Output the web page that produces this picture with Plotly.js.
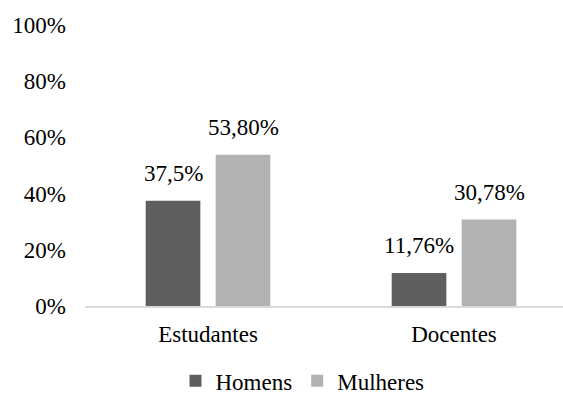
<!DOCTYPE html>
<html>
<head>
<meta charset="utf-8">
<script src="https://cdn.plot.ly/plotly-3.0.1.min.js"></script>
<style>
  html, body { margin: 0; padding: 0; background: #ffffff; font-family: "Liberation Serif"; }
  #chart { width: 563px; height: 394px; }
  #warm { position: absolute; left: 0; top: 0; font-family: "Liberation Serif"; font-size: 23px; color: #ffffff; }
</style>
</head>
<body>
<div id="chart"></div>
<span id="warm"></span>
<script>
// Participação por grupo e sexo
const categories = ["Estudantes", "Docentes"];
const homens = [37.5, 11.76];
const mulheres = [53.80, 30.78];
const homensLabels = ["37,5%", "11,76%"];
const mulheresLabels = ["53,80%", "30,78%"];
const yTickValues = [0, 20, 40, 60, 80, 100];
const yTickLabels = ["0%", "20%", "40%", "60%", "80%", "100%"];

const fontFamily = "Liberation Serif";
const darkGray = "#5f5f5f";
const lightGray = "#b2b2b2";

const traces = [
  { type: "bar", name: "Homens", x: categories, y: homens,
    marker: { color: darkGray } },
  { type: "bar", name: "Mulheres", x: categories, y: mulheres,
    marker: { color: lightGray } }
];

// value labels above each bar, shifted onto their slot in the group
const annotations = [];
function addLabels(values, labels, shift) {
  values.forEach(function (v, i) {
    annotations.push({
      x: categories[i], y: v, xref: "x", yref: "y",
      text: labels[i], showarrow: false,
      xanchor: "center", yanchor: "bottom",
      xshift: shift, yshift: 13,
      font: { family: fontFamily, size: 23, color: "#000000" }
    });
  });
}
addLabels(homens, homensLabels, -35);
addLabels(mulheres, mulheresLabels, 35);

const layout = {
  width: 563, height: 394,
  margin: { l: 85, r: 0, t: 25, b: 88, autoexpand: false },
  paper_bgcolor: "#ffffff", plot_bgcolor: "#ffffff",
  font: { family: fontFamily, size: 23, color: "#000000" },
  barmode: "group",
  bargap: 0.431,
  bargroupgap: 0.219,
  showlegend: true,
  legend: {
    orientation: "h", x: 0.455, xanchor: "center", y: -0.19, yanchor: "top",
    font: { family: fontFamily, size: 23, color: "#000000" },
    itemwidth: 30, traceorder: "normal"
  },
  xaxis: {
    type: "category", range: [-0.5, 1.443],
    showline: true, linecolor: "#d9d9d9", linewidth: 1.5,
    showgrid: false, zeroline: false, ticks: "", ticklabelstandoff: 7
  },
  yaxis: {
    range: [0, 100], tickvals: yTickValues, ticktext: yTickLabels,
    showline: false, showgrid: false, zeroline: false, ticks: "",
    ticklabelstandoff: 18
  },
  annotations: annotations
};

// make sure the serif face is resolved before drawing, then redraw once
// so every SVG text node picks it up
function draw() {
  Plotly.newPlot("chart", traces, layout, { displayModeBar: false }).then(function (gd) {
    document.getElementById("warm").textContent = " ";
    return Plotly.redraw(gd);
  });
}
if (document.fonts && document.fonts.load) {
  document.fonts.load("23px 'Liberation Serif'").then(draw, draw);
} else {
  draw();
}
</script>
</body>
</html>
